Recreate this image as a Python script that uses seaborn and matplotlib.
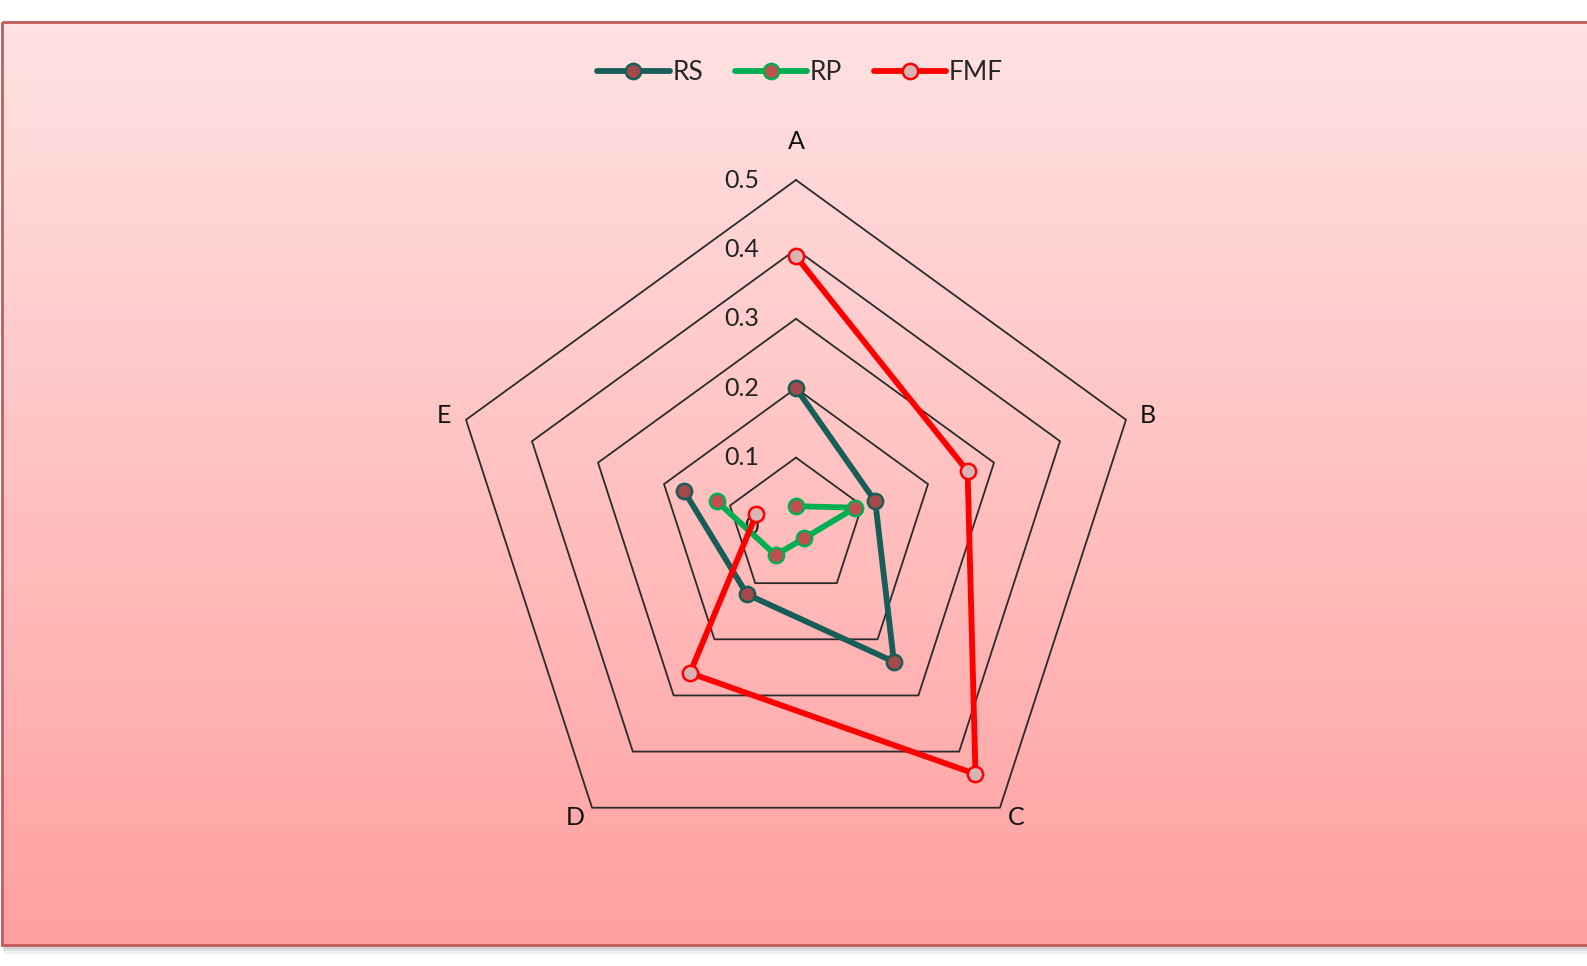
import numpy as np
import pandas as pd
import matplotlib
matplotlib.use("Agg")
import matplotlib.pyplot as plt
import seaborn as sns
from matplotlib.patches import Rectangle

categories = ["A", "B", "C", "D", "E"]
rs = [0.20, 0.12, 0.24, 0.12, 0.17]
rp = [0.03, 0.09, 0.02, 0.05, 0.12]
fmf = [0.39, 0.26, 0.44, 0.26, 0.06]
ring_levels = [0.1, 0.2, 0.3, 0.4, 0.5]
ring_labels = ["0", "0.1", "0.2", "0.3", "0.4", "0.5"]

sns.set_theme(style="white")
plt.rcParams["font.family"] = ["Lato", "DejaVu Sans"]

W, H, DPI = 1587, 966, 100
fig = plt.figure(figsize=(W / DPI, H / DPI), dpi=DPI)
fig.patch.set_facecolor("white")

# background panel with vertical gradient
bg = fig.add_axes([0, 0, 1, 1])
bg.set_xlim(0, W)
bg.set_ylim(H, 0)
bg.axis("off")
top, bot = np.array([255, 226, 226]) / 255, np.array([255, 160, 160]) / 255
t = np.linspace(0, 1, 256)[:, None]
grad = (top * (1 - t) + bot * t)[:, None, :]
bg.imshow(grad, extent=[2, 1600, 945, 22], aspect="auto", zorder=0)
for k, a in enumerate([0.35, 0.22, 0.12, 0.05]):
    bg.plot([4, W], [947 + 2 * k] * 2, color="#888888", lw=2, alpha=a)
bg.add_patch(Rectangle((2, 22), 1620, 923, fill=False, edgecolor="#C45A5A",
                       linewidth=2, zorder=2))

# radar axes, 694 px per unit so that 0.5 maps to 347 px
cx, cy, s = 796, 527, 694
ax = fig.add_axes([0, 0, 1, 1])
ax.set_xlim(-cx / s, (W - cx) / s)
ax.set_ylim(-(H - cy) / s, cy / s)
ax.axis("off")

angles = np.deg2rad(90 - 72 * np.arange(len(categories)))


def to_xy(vals):
    v = np.append(vals, vals[0])
    a = np.append(angles, angles[0])
    return v * np.cos(a), v * np.sin(a)


for lv in ring_levels:
    gx, gy = to_xy(np.full(len(categories), lv))
    ax.plot(gx, gy, color="#2b2b2b", lw=1.3, zorder=1)

for i, lab in enumerate(ring_labels):
    ax.text(-0.053, 0.1 * i, lab, ha="right", va="center", fontsize=18,
            color="#222222")

label_offsets = [(0, 28), (16, 3), (12, -7), (-12, -7), (-16, 3)]
for a, c, off in zip(angles, categories, label_offsets):
    ax.annotate(c, (0.5 * np.cos(a), 0.5 * np.sin(a)), xytext=off,
                textcoords="offset points", ha="center", va="center",
                fontsize=18, color="#111111")

series = [
    ("RS", rs, "#185E58", "#A5484A"),
    ("RP", rp, "#00B050", "#C0504D"),
    ("FMF", fmf, "#FF0000", "#D8B4B4"),
]
for name, vals, col, face in series:
    x, y = to_xy(np.array(vals))
    df = pd.DataFrame({"x": x, "y": y})
    sns.lineplot(data=df, x="x", y="y", sort=False, ax=ax, color=col,
                 lw=4.2, marker="o", markersize=11, markerfacecolor=face,
                 markeredgecolor=col, markeredgewidth=1.8, label=name,
                 zorder=3)

ax.legend(loc="center", bbox_to_anchor=(800 / W, 1 - 73 / H),
          bbox_transform=fig.transFigure, ncol=3, frameon=False, fontsize=19,
          handlelength=2.75, handletextpad=0.1, columnspacing=1.2,
          numpoints=1)

fig.savefig("out.png", dpi=DPI)
